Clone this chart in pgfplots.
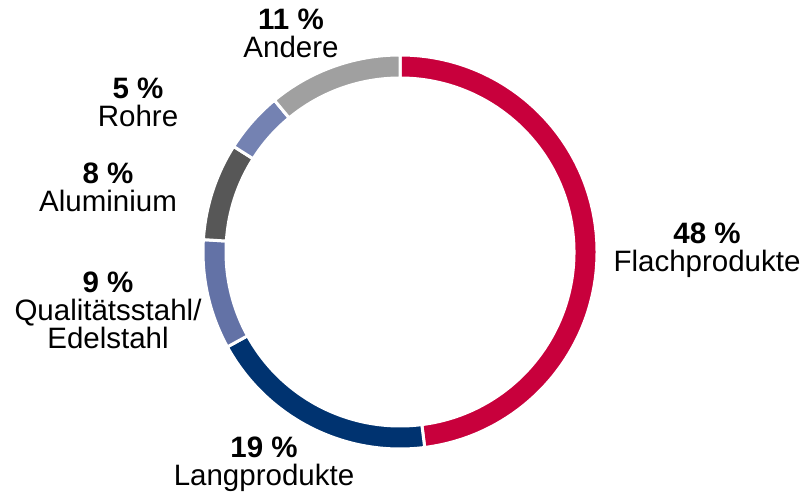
\documentclass[border=0pt]{standalone}
\usepackage{pgfplots}
\pgfplotsset{compat=1.18}
\usepackage{pgfplotstable}
\usepackage{fontspec}
\setmainfont{Liberation Sans}

\definecolor{cFlach}{RGB}{200,0,60}
\definecolor{cLang}{RGB}{0,51,112}
\definecolor{cQual}{RGB}{99,114,166}
\definecolor{cAlu}{RGB}{87,87,87}
\definecolor{cRohr}{RGB}{116,130,178}
\definecolor{cAnd}{RGB}{160,160,160}

% shares in percent, clockwise from 12 o'clock
\pgfplotstableread{
pct col
48 cFlach
19 cLang
9  cQual
8  cAlu
5  cRohr
11 cAnd
}\shares

\begin{document}
\begin{tikzpicture}
  \begin{axis}[
    hide axis, scale only axis, clip=false,
    x=0.4pt, y=0.4pt,
    xmin=0, xmax=804, ymin=0, ymax=493,
  ]
    % keep the page at the full frame
    \path (axis cs:0,0) rectangle (axis cs:804,493);

    \pgfplotstablegetrowsof{\shares}
    \pgfmathtruncatemacro\nrows{\pgfplotsretval-1}
    \def\cum{0}
    \pgfplotsforeachungrouped \i in {0,...,\nrows}{
      \pgfplotstablegetelem{\i}{pct}\of\shares \let\p=\pgfplotsretval
      \pgfplotstablegetelem{\i}{col}\of\shares \let\c=\pgfplotsretval
      \pgfmathsetmacro\aS{90-3.6*\cum}
      \pgfmathsetmacro\aE{90-3.6*(\cum+\p)}
      \pgfmathsetmacro\cum{\cum+\p}
      \edef\temp{\noexpand\fill[\c, draw=white, line width=1.2pt]
        (axis cs:400,241) ++(\aS:78.8pt)
        arc[start angle=\aS, end angle=\aE, radius=78.8pt]
        -- ++(\aE+180:9.2pt)
        arc[start angle=\aE, end angle=\aS, radius=69.6pt] -- cycle;}
      \temp
    }

    \begin{scope}[every node/.style={align=center, inner sep=0pt,
        font=\fontsize{11.8}{11.2}\selectfont}]
      \node at (axis cs:291,460) {\textbf{11 \%}\\Andere};
      \node at (axis cs:138,391) {\textbf{5 \%}\\Rohre};
      \node at (axis cs:108,306) {\textbf{8 \%}\\Aluminium};
      \node at (axis cs:108,183) {\textbf{9 \%}\\Qualitätsstahl/\\Edelstahl};
      \node at (axis cs:264,29) {\textbf{19 \%}\\Langprodukte};
      \node at (axis cs:707,243) {\textbf{48 \%}\\Flachprodukte};
    \end{scope}
  \end{axis}
\end{tikzpicture}
\end{document}
